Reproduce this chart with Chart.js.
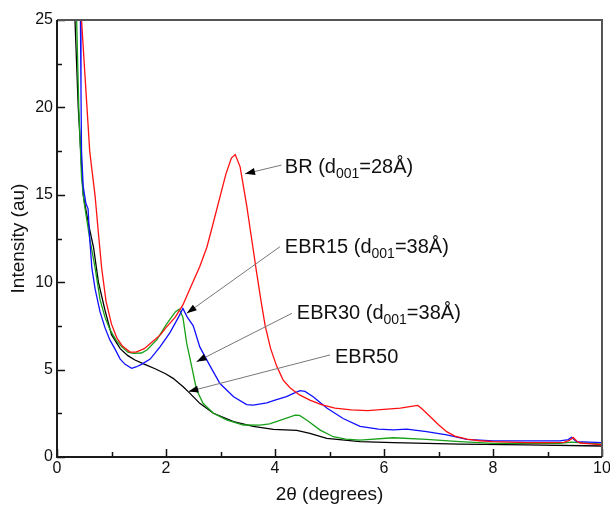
<!DOCTYPE html>
<html>
<head>
<meta charset="utf-8">
<script src="https://cdn.jsdelivr.net/npm/chart.js@4"></script>
<style>
html, body { margin: 0; padding: 0; background: #fff; }
</style>
</head>
<body>
<canvas id="chart" width="610" height="506"></canvas>
<script>
const xTicks = [0, 2, 4, 6, 8, 10];
const yTicks = [0, 5, 10, 15, 20, 25];

const brX = [0.45, 0.5, 0.55, 0.6, 0.65, 0.7, 0.76, 0.82, 0.9, 1.0, 1.1, 1.2, 1.34, 1.45, 1.6, 1.75, 1.9, 2.0, 2.17, 2.31, 2.45, 2.62, 2.75, 2.86, 3.0, 3.1, 3.2, 3.27, 3.36, 3.48, 3.58, 3.66, 3.75, 3.82, 3.92, 4.03, 4.15, 4.28, 4.45, 4.64, 4.85, 5.1, 5.4, 5.7, 6.0, 6.3, 6.5, 6.62, 6.7, 6.85, 7.0, 7.15, 7.3, 7.52, 7.75, 8.0, 8.3, 8.62, 9.0, 9.3, 9.4, 9.47, 9.54, 9.6, 9.8, 10];
const brY = [25, 22.5, 20, 17.5, 16.2, 14.9, 12.8, 10.8, 8.9, 7.6, 6.8, 6.35, 6.0, 6.0, 6.2, 6.6, 7.0, 7.4, 8.0, 8.7, 9.7, 10.9, 12.0, 13.3, 15.0, 16.2, 17.1, 17.3, 16.6, 14.4, 12.3, 10.6, 8.8, 7.5, 6.2, 5.2, 4.4, 3.95, 3.55, 3.25, 3.0, 2.8, 2.7, 2.65, 2.72, 2.8, 2.9, 2.95, 2.75, 2.3, 1.85, 1.45, 1.2, 1.02, 0.93, 0.88, 0.85, 0.82, 0.82, 0.84, 0.95, 1.12, 0.9, 0.8, 0.75, 0.7];

const ebr15X = [0.43, 0.44, 0.45, 0.48, 0.53, 0.57, 0.6, 0.64, 0.7, 0.79, 0.88, 0.97, 1.06, 1.16, 1.25, 1.37, 1.45, 1.55, 1.71, 1.89, 2.07, 2.23, 2.31, 2.39, 2.5, 2.62, 2.81, 2.99, 3.24, 3.48, 3.6, 3.85, 4.0, 4.21, 4.34, 4.46, 4.55, 4.7, 4.95, 5.25, 5.56, 5.9, 6.17, 6.42, 6.78, 7.15, 7.52, 8.0, 8.62, 9.23, 9.38, 9.44, 9.53, 10];
const ebr15Y = [25, 21, 17.5, 15.5, 14.5, 14.2, 12.5, 10.8, 9.6, 8.3, 7.4, 6.7, 6.2, 5.6, 5.3, 5.07, 5.15, 5.3, 5.6, 6.3, 7.1, 8.0, 8.5, 8.0, 7.5, 6.3, 5.2, 4.2, 3.45, 3.0, 2.97, 3.1, 3.25, 3.45, 3.64, 3.8, 3.75, 3.45, 2.8, 2.2, 1.75, 1.6, 1.55, 1.6, 1.45, 1.26, 1.01, 0.92, 0.92, 0.92, 1.0, 1.13, 0.88, 0.82];

const ebr30X = [0.36, 0.4, 0.45, 0.5, 0.6, 0.7, 0.79, 0.88, 0.97, 1.08, 1.19, 1.3, 1.4, 1.55, 1.65, 1.83, 2.01, 2.17, 2.24, 2.31, 2.38, 2.47, 2.56, 2.68, 2.87, 3.11, 3.42, 3.72, 3.9, 4.09, 4.37, 4.45, 4.58, 4.83, 5.07, 5.3, 5.56, 6.17, 6.78, 7.39, 8.0, 9.23, 9.44, 10];
const ebr30Y = [25, 20, 16, 14.5, 12.5, 10.8, 9.0, 8.0, 7.3, 6.7, 6.3, 6.0, 5.93, 5.95, 6.12, 6.7, 7.6, 8.3, 8.45, 8.0, 6.5, 5.2, 3.85, 3.07, 2.5, 2.12, 1.83, 1.82, 1.9, 2.1, 2.4, 2.38, 2.12, 1.54, 1.16, 1.02, 0.97, 1.1, 1.01, 0.88, 0.78, 0.78, 0.85, 0.74];

const ebr50X = [0.33, 0.39, 0.48, 0.58, 0.67, 0.76, 0.88, 1.0, 1.16, 1.3, 1.43, 1.61, 1.8, 2.0, 2.13, 2.32, 2.44, 2.62, 2.87, 3.24, 3.6, 3.97, 4.4, 4.64, 4.95, 5.56, 6.17, 7.39, 8.62, 10];
const ebr50Y = [25, 20, 15, 13.3, 12.0, 10.0, 8.4, 7.0, 6.2, 5.8, 5.55, 5.3, 5.05, 4.75, 4.5, 4.0, 3.64, 3.07, 2.5, 2.02, 1.75, 1.58, 1.52, 1.35, 1.07, 0.88, 0.82, 0.74, 0.69, 0.63];

// etiquetas con flecha: texto, punta de flecha y arranque de la línea, en unidades de datos
const notes = [
    { main: "BR (d", sub: "001", rest: "=28Å)", at: [4.18, 16.23], from: [4.12, 16.7], to: [3.45, 16.2] },
    { main: "EBR15 (d", sub: "001", rest: "=38Å)", at: [4.18, 11.69], from: [4.09, 12.03], to: [2.38, 8.22] },
    { main: "EBR30 (d", sub: "001", rest: "=38Å)", at: [4.40, 7.88], from: [4.31, 8.22], to: [2.56, 5.45] },
    { main: "EBR50", sub: "", rest: "", at: [5.10, 5.40], from: [5.01, 5.84], to: [2.41, 3.74] }
];

const pts = (xs, ys) => xs.map((x, i) => ({ x: x, y: ys[i] }));
const FONT = "'Liberation Sans', Arial, sans-serif";

const framePlugin = {
    id: "frame",
    afterDatasetsDraw(chart) {
        const ctx = chart.ctx;
        const a = chart.chartArea;
        const xs = chart.scales.x, ys = chart.scales.y;
        ctx.save();

        // flechas y textos
        notes.forEach(n => {
            const x1 = xs.getPixelForValue(n.from[0]), y1 = ys.getPixelForValue(n.from[1]);
            const x2 = xs.getPixelForValue(n.to[0]), y2 = ys.getPixelForValue(n.to[1]);
            ctx.strokeStyle = "#777";
            ctx.lineWidth = 1;
            ctx.beginPath();
            ctx.moveTo(x1, y1);
            ctx.lineTo(x2, y2);
            ctx.stroke();
            const ang = Math.atan2(y2 - y1, x2 - x1);
            const L = 10, W = 3.5;
            ctx.fillStyle = "#000";
            ctx.beginPath();
            ctx.moveTo(x2, y2);
            ctx.lineTo(x2 - L * Math.cos(ang) + W * Math.sin(ang), y2 - L * Math.sin(ang) - W * Math.cos(ang));
            ctx.lineTo(x2 - L * Math.cos(ang) - W * Math.sin(ang), y2 - L * Math.sin(ang) + W * Math.cos(ang));
            ctx.closePath();
            ctx.fill();

            let tx = xs.getPixelForValue(n.at[0]);
            const ty = ys.getPixelForValue(n.at[1]);
            ctx.fillStyle = "#111";
            ctx.textBaseline = "alphabetic";
            ctx.textAlign = "left";
            ctx.font = "20px " + FONT;
            ctx.fillText(n.main, tx, ty);
            tx += ctx.measureText(n.main).width;
            if (n.sub) {
                ctx.font = "14px " + FONT;
                ctx.fillText(n.sub, tx, ty + 5);
                tx += ctx.measureText(n.sub).width;
                ctx.font = "20px " + FONT;
                ctx.fillText(n.rest, tx, ty);
            }
        });

        // marcas hacia dentro
        ctx.strokeStyle = "#111";
        ctx.lineWidth = 1.5;
        ctx.beginPath();
        for (let v = 0; v <= 10; v += 1) {
            const px = Math.round(xs.getPixelForValue(v)) + 0.5;
            const len = v % 2 === 0 ? 8 : 5;
            ctx.moveTo(px, a.bottom);
            ctx.lineTo(px, a.bottom - len);
        }
        for (let v = 0; v <= 25; v += 2.5) {
            const py = Math.round(ys.getPixelForValue(v)) + 0.5;
            const len = v % 5 === 0 ? 8 : 5;
            ctx.moveTo(a.left, py);
            ctx.lineTo(a.left + len, py);
        }
        ctx.stroke();

        // marco
        ctx.lineWidth = 2;
        ctx.strokeStyle = "#555";
        ctx.beginPath();
        ctx.moveTo(a.left, a.top);
        ctx.lineTo(a.right, a.top);
        ctx.lineTo(a.right, a.bottom);
        ctx.stroke();
        ctx.strokeStyle = "#1a1a1a";
        ctx.beginPath();
        ctx.moveTo(a.left, a.top);
        ctx.lineTo(a.left, a.bottom);
        ctx.lineTo(a.right, a.bottom);
        ctx.stroke();
        ctx.restore();
    }
};

new Chart(document.getElementById("chart"), {
    type: "line",
    data: {
        datasets: [
            { label: "BR", data: pts(brX, brY), borderColor: "#ff1010" },
            { label: "EBR15", data: pts(ebr15X, ebr15Y), borderColor: "#1010ff" },
            { label: "EBR30", data: pts(ebr30X, ebr30Y), borderColor: "#18a018" },
            { label: "EBR50", data: pts(ebr50X, ebr50Y), borderColor: "#000000" }
        ]
    },
    options: {
        responsive: false,
        animation: false,
        devicePixelRatio: 1,
        layout: { padding: { left: 0, right: 8, top: 20, bottom: 0 } },
        elements: {
            point: { radius: 0 },
            line: { borderWidth: 1.3, tension: 0, fill: false }
        },
        plugins: {
            legend: { display: false },
            tooltip: { enabled: false }
        },
        scales: {
            x: {
                type: "linear",
                min: 0,
                max: 10,
                grid: { display: false, drawTicks: false },
                border: { display: false },
                afterBuildTicks: s => { s.ticks = xTicks.map(v => ({ value: v })); },
                afterFit: s => { s.height = 49; s.paddingLeft = 0; s.paddingRight = 0; },
                ticks: { padding: 2, color: "#111", maxRotation: 0, autoSkip: false, font: { family: FONT, size: 16 } },
                title: { display: true, text: "2θ (degrees)", color: "#111", font: { family: FONT, size: 19 }, padding: { top: 0, bottom: 0 } }
            },
            y: {
                min: 0,
                max: 25,
                grid: { display: false, drawTicks: false },
                border: { display: false },
                afterBuildTicks: s => { s.ticks = yTicks.map(v => ({ value: v })); },
                afterFit: s => { s.width = 57; s.paddingTop = 0; s.paddingBottom = 0; },
                ticks: { padding: 4, color: "#111", font: { family: FONT, size: 16 } },
                title: { display: true, text: "Intensity (au)", color: "#111", font: { family: FONT, size: 19 }, padding: { top: 7, bottom: 0 } }
            }
        }
    },
    plugins: [framePlugin]
});
</script>
</body>
</html>
